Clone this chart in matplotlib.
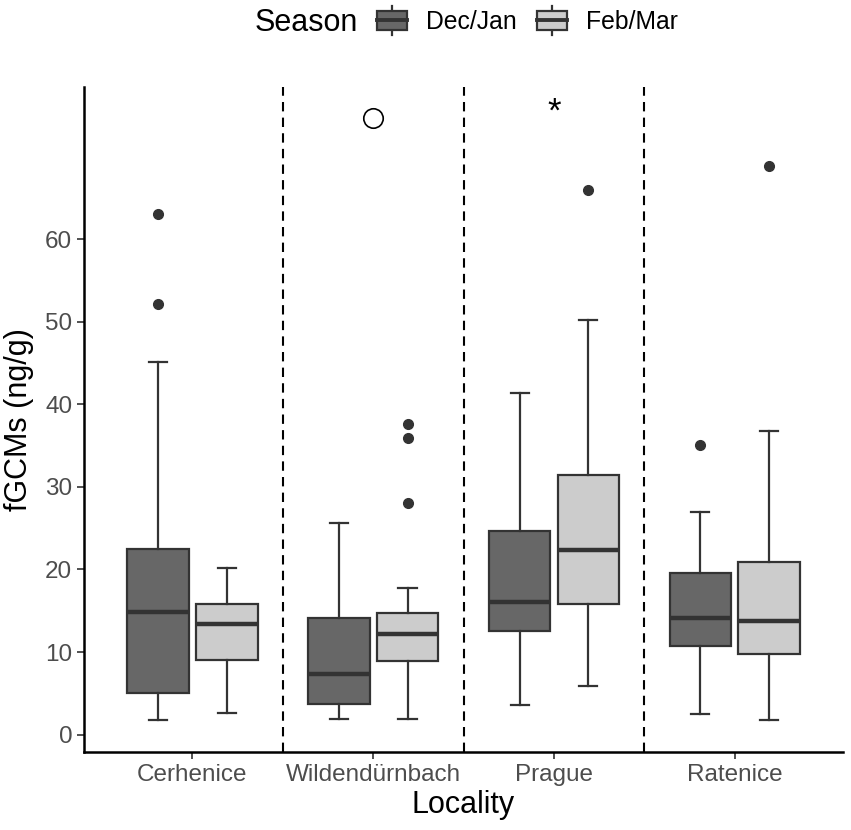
import matplotlib.pyplot as plt
from matplotlib.legend_handler import HandlerBase
from matplotlib.patches import Patch, Rectangle
from matplotlib.lines import Line2D

plt.rcParams['font.family'] = ['Liberation Sans', 'DejaVu Sans']

localities = ['Cerhenice', 'Wildendürnbach', 'Prague', 'Ratenice']
seasons = ['Dec/Jan', 'Feb/Mar']
season_colors = ['#676767', '#cccccc']

# box summaries: lower whisker, Q1, median, Q3, upper whisker
dec_jan_low = [1.8, 1.9, 3.6, 2.5]
dec_jan_q1 = [5.0, 3.7, 12.6, 10.7]
dec_jan_med = [14.9, 7.4, 16.0, 14.1]
dec_jan_q3 = [22.5, 14.1, 24.7, 19.6]
dec_jan_high = [45.1, 25.6, 41.4, 27.0]
dec_jan_out = [[63.0, 52.1], [], [], [35.1]]

feb_mar_low = [2.6, 1.9, 5.9, 1.8]
feb_mar_q1 = [9.0, 8.9, 15.8, 9.8]
feb_mar_med = [13.4, 12.2, 22.4, 13.7]
feb_mar_q3 = [15.8, 14.7, 31.4, 20.9]
feb_mar_high = [20.2, 17.7, 50.2, 36.8]
feb_mar_out = [[], [37.6, 35.9, 28.1], [65.9], [68.8]]

# significance marks above the boxes
circle_mark = ('Wildendürnbach', 74.7)
star_mark = ('Prague', 75.4)

series = [
    (dec_jan_low, dec_jan_q1, dec_jan_med, dec_jan_q3, dec_jan_high, dec_jan_out),
    (feb_mar_low, feb_mar_q1, feb_mar_med, feb_mar_q3, feb_mar_high, feb_mar_out),
]

LW = 1.6


class BoxKey(HandlerBase):
    # legend key drawn like a ggplot boxplot glyph
    def create_artists(self, legend, orig_handle, xdescent, ydescent,
                       width, height, fontsize, trans):
        x0, y0 = -xdescent, -ydescent
        cx = x0 + width / 2
        whisker = Line2D([cx, cx], [y0 - 0.27 * height, y0 + 1.27 * height],
                         color='#333333', lw=LW, transform=trans)
        box = Rectangle((x0, y0), width, height,
                        facecolor=orig_handle.get_facecolor(),
                        edgecolor='#333333', lw=LW, transform=trans)
        med = Line2D([x0, x0 + width], [y0 + height / 2] * 2,
                     color='#333333', lw=2.8, transform=trans)
        return [whisker, box, med]


fig = plt.figure(figsize=(8.51, 8.30), dpi=100)
ax = fig.add_axes([0.0987, 0.094, 0.892, 0.801])

offsets = [-0.19, 0.19]
for k, (lo, q1, med, q3, hi, out) in enumerate(series):
    stats = []
    for i in range(len(localities)):
        stats.append({'whislo': lo[i], 'q1': q1[i], 'med': med[i],
                      'q3': q3[i], 'whishi': hi[i], 'fliers': out[i]})
    pos = [i + 1 + offsets[k] for i in range(len(localities))]
    ax.bxp(stats, positions=pos, widths=0.34, capwidths=0.1,
           patch_artist=True, showfliers=True,
           boxprops=dict(facecolor=season_colors[k], edgecolor='#333333', linewidth=LW),
           medianprops=dict(color='#333333', linewidth=3.2),
           whiskerprops=dict(color='#333333', linewidth=LW),
           capprops=dict(color='#333333', linewidth=LW),
           flierprops=dict(marker='o', markerfacecolor='#333333',
                           markeredgecolor='#333333', markersize=7))

for x in [1.5, 2.5, 3.5]:
    ax.axvline(x, color='black', ls=(0, (4.5, 3)), lw=1.5, zorder=0)

cx = localities.index(circle_mark[0]) + 1
ax.plot(cx, circle_mark[1], marker='o', mfc='white', mec='black', ms=14, mew=1.2)
sx = localities.index(star_mark[0]) + 1
ax.text(sx, star_mark[1], '*', ha='center', va='center', fontsize=25)

ax.set_xlim(0.4, 4.6)
ax.set_ylim(-2.1, 78.4)
ax.set_xticks(range(1, len(localities) + 1))
ax.set_xticklabels(localities)
ax.set_yticks(range(0, 70, 10))
ax.tick_params(labelsize=17.5, labelcolor='#4d4d4d', color='#333333',
               length=5, width=1.2)
for s in ['top', 'right']:
    ax.spines[s].set_visible(False)
for s in ['left', 'bottom']:
    ax.spines[s].set_linewidth(1.8)
    ax.spines[s].set_color('black')
ax.set_xlabel('Locality', fontsize=22, labelpad=3)
ax.set_ylabel('fGCMs (ng/g)', fontsize=22, labelpad=8)

fig.text(255 / 851, 1 - 23 / 830, 'Season', fontsize=22, ha='left', va='center')
handles = [Patch(facecolor=c) for c in season_colors]
fig.legend(handles, seasons, loc='center left', ncol=2,
           bbox_to_anchor=(377 / 851, 1 - 22 / 830), frameon=False,
           borderpad=0, borderaxespad=0,
           fontsize=17.8, handler_map={Patch: BoxKey()},
           handlelength=1.2, handleheight=0.81, handletextpad=0.8,
           columnspacing=0.8)

fig.savefig('out.png', dpi=100)
